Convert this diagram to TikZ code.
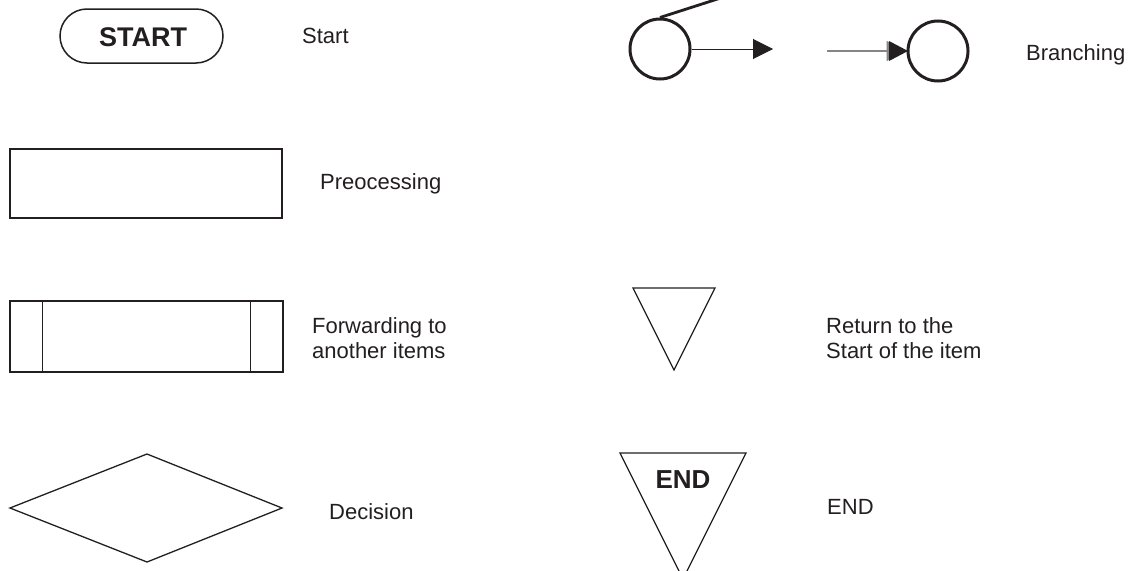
\documentclass[tikz,border=0pt]{standalone}
\usepackage{fontspec}
\setmainfont{Liberation Sans}
\usetikzlibrary{arrows.meta,shapes.misc}
\definecolor{ink}{HTML}{231F20}
\tikzset{
  shp/.style={draw=ink, line width=1.3pt},
  circ/.style={draw=ink, line width=3pt, circle, minimum size=60pt, inner sep=0pt},
  lbl/.style={anchor=west, inner sep=0pt, text=ink, font=\fontsize{22}{25}\selectfont, align=left},
  bold/.style={text=ink, inner sep=0pt, font=\fontsize{26}{30}\selectfont\bfseries},
  arr/.style={line width=1pt, -{Triangle[length=20pt,width=20pt]}}
}
\begin{document}
\begin{tikzpicture}[x=1pt,y=-1pt]
\useasboundingbox (0,0) rectangle (1131,570);
\clip (0,0) rectangle (1131,570);
% START
\node[shp, rounded rectangle, minimum width=163pt, minimum height=54pt, inner sep=0pt, line width=1.5pt] (start) at (141.5,36) {};
\node[bold, font=\fontsize{27}{30}\selectfont\bfseries] (starttxt) at (143,37) {START};
\node[lbl] (l1) at (302,36) {Start};
% Preprocessing
\node[shp, minimum width=272pt, minimum height=69pt, inner sep=0pt] (pre) at (146,183.5) {};
\node[lbl] (l2) at (320,184) {Preocessing};
% Forwarding
\node[shp, minimum width=273pt, minimum height=71pt, inner sep=0pt] (fwd) at (146.5,336.5) {};
\draw[shp] (fwd.north west) ++(33,0) coordinate (fa) -- (fa |- fwd.south);
\draw[shp] (fwd.north east) ++(-33,0) coordinate (fb) -- (fb |- fwd.south);
\node[lbl] (l3) at (312,338) {Forwarding to\\another items};
% Decision
\coordinate (dl) at (10,508);
\coordinate (dt) at (147,454);
\coordinate (dr) at (282,508);
\coordinate (db) at (147,562);
\draw[shp, line join=miter] (dl) -- (dt) -- (dr) -- (db) -- cycle;
\node[lbl] (l4) at (329,512) {Decision};
% Branching
\node[circ] (c1) at (660,49) {};
\node[circ] (c2) at (938,51) {};
\coordinate (b1) at (773,49);
\coordinate (b2) at (827,51);
\coordinate (btop) at (730,-5);
\draw[ink, line width=2.8pt] (c1.north) -- (btop);
\draw[arr, draw=ink, fill=ink] (c1.east) -- (b1);
\draw[arr, draw=ink!55, line width=1.2pt] (b2) -- (c2.west);
\fill[ink] (889,41) -- (908,51) -- (889,61) -- cycle;
\node[lbl] (l5) at (1026,55) {Branching};
% Return
\coordinate (r1) at (633,288);
\coordinate (r2) at (715,288);
\coordinate (r3) at (674,370);
\draw[shp, line join=miter] (r1) -- (r2) -- (r3) -- cycle;
\node[lbl] (l6) at (826,338) {Return to the\\Start of the item};
% END
\coordinate (e1) at (620,453);
\coordinate (e2) at (746,453);
\coordinate (e3) at (683,579);
\draw[shp, line join=miter] (e1) -- (e2) -- (e3) -- cycle;
\node[bold] (endtxt) at (683,480) {END};
\node[lbl] (l7) at (827,507) {END};
\end{tikzpicture}
\end{document}
